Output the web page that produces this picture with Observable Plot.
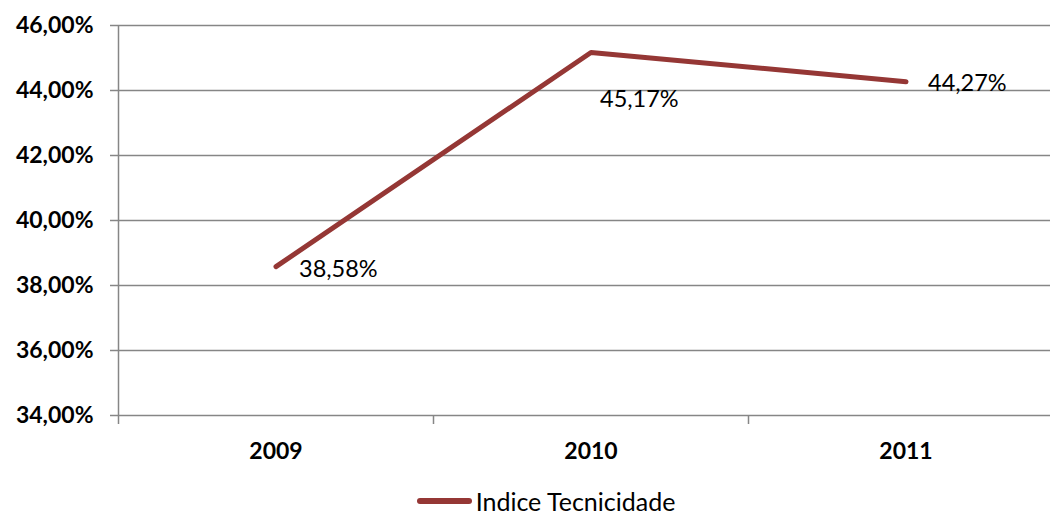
<!DOCTYPE html>
<html>
<head>
<meta charset="utf-8">
<script src="https://cdn.jsdelivr.net/npm/d3@7"></script>
<script src="https://cdn.jsdelivr.net/npm/@observablehq/plot@0.6"></script>
<style>
  html, body { margin: 0; padding: 0; background: #fff; }
  body { width: 1050px; height: 515px; overflow: hidden; font-family: Lato, "Open Sans", sans-serif; }
  #legend { display: flex; justify-content: center; align-items: center; height: 24px; margin-top: 9px; padding-left: 42px; font-size: 25px; line-height: 1; color: #000; }
  #legend .swatch { width: 55px; height: 6px; border-radius: 3px; background: #953735; margin-right: 4px; }
</style>
</head>
<body>
<div id="chart"></div>
<div id="legend"><span class="swatch"></span><span id="legend-label"></span></div>
<script>
const years = [2009, 2010, 2011];
const values = [38.58, 45.17, 44.27];
const yTicks = [34, 36, 38, 40, 42, 44, 46];
const seriesName = "Indice Tecnicidade";

const data = years.map((year, i) => ({year, value: values[i]}));
const fmt = v => v.toFixed(2).replace(".", ",") + "%";
const xDomain = [d3.min(years) - 0.5, d3.max(years) + 0.5];
const boundaries = d3.range(xDomain[0], xDomain[1] + 0.01, 1);
const gridColor = "#868686";
const lineColor = "#953735";

function labelMark(year, dx, dy) {
  return Plot.text(data.filter(d => d.year === year), {
    x: "year", y: "value", text: d => fmt(d.value),
    textAnchor: "start", dx, dy, fontSize: 23.5, fill: "#000"
  });
}

const plot = Plot.plot({
  width: 1050,
  height: 480,
  marginTop: 25,
  marginBottom: 65,
  marginLeft: 118,
  marginRight: -13,
  style: {fontFamily: "Lato, 'Open Sans', sans-serif", fontSize: "23px", color: "#000", background: "#fff", overflow: "visible", display: "block"},
  x: {type: "linear", domain: xDomain, label: null},
  y: {domain: [d3.min(yTicks), d3.max(yTicks)], label: null},
  marks: [
    Plot.ruleY(yTicks, {y: d => d, stroke: gridColor, strokeWidth: 1.5}),
    Plot.axisY(yTicks, {tickSize: 8, tickPadding: 17, tickFormat: fmt, fontWeight: "bold", stroke: gridColor, strokeWidth: 1.5, fill: "#000", fontSize: 23, label: null}),
    Plot.ruleX([xDomain[0]], {stroke: gridColor, strokeWidth: 1.5}),
    Plot.axisX(boundaries, {tickSize: 9, tickFormat: () => "", stroke: gridColor, strokeWidth: 1.5, label: null}),
    Plot.axisX(years, {tickSize: 0, tickPadding: 27, tickFormat: d => String(d), fontWeight: "bold", fill: "#000", fontSize: 23, label: null}),
    Plot.line(data, {x: "year", y: "value", stroke: lineColor, strokeWidth: 5, strokeLinecap: "round", strokeLinejoin: "round"}),
    labelMark(2009, 23, 3),
    labelMark(2010, 9, 47),
    labelMark(2011, 22, 2)
  ]
});
document.getElementById("chart").appendChild(plot);
document.getElementById("legend-label").textContent = seriesName;
</script>
</body>
</html>
